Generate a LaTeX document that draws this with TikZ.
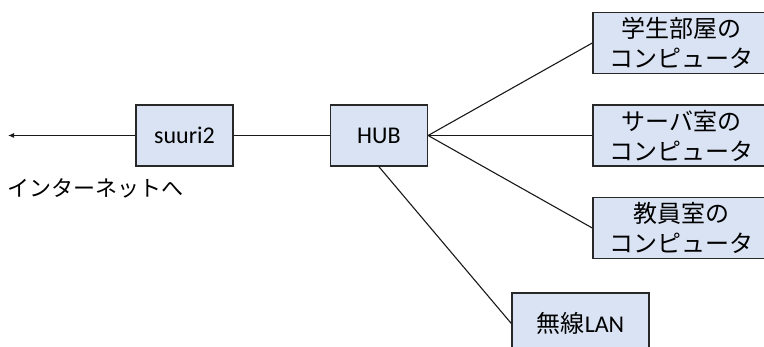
\documentclass[tikz,border=0pt]{standalone}
\usepackage{fontspec}
\setmainfont{Carlito}
\newfontfamily\jp{Noto Sans CJK JP}
\usetikzlibrary{arrows.meta,positioning}
\definecolor{boxfill}{RGB}{218,227,243}
\definecolor{boxline}{RGB}{40,40,40}

\begin{document}
\begin{tikzpicture}[
    x=1pt,y=1pt,
    node distance=30pt,
    host/.style={rectangle,draw=boxline,fill=boxfill,line width=1.4pt,
      minimum width=97pt,minimum height=61pt,align=center,font=\fontsize{24}{30}\selectfont},
    pc/.style={host,minimum width=178pt,font=\fontsize{24}{30}\selectfont\jp},
    link/.style={line width=1.1pt,draw=black!90},
    arrow/.style={-{Latex[length=6pt,width=5pt]},link}
  ]
    \clip (0,0) rectangle (764,347);
    \node[host] (suuri) at (184.5,211.5) {suuri2};
    \node[host,right=96pt of suuri] (hub) {HUB};
    \node[pc,right=164pt of hub] (server) {サーバ室の\\コンピュータ};
    \node[pc,above=of server] (student) {学生部屋の\\コンピュータ};
    \node[pc,below=of server] (staff) {教員室の\\コンピュータ};
    \node[host,minimum width=137pt] (wlan) at (580.5,23.5) {{\jp 無線}LAN};
    \coordinate (net) at (8,211.5);
    \node[anchor=west,font=\fontsize{22}{26}\selectfont\jp] (netlabel) at (4,159) {インターネットへ};

    \draw[arrow] (suuri) -- (net);
    \draw[link] (suuri) -- (hub);
    \draw[link] (hub.east) -- (student.west);
    \draw[link] (hub.east) -- (server.west);
    \draw[link] (hub.east) -- (staff.west);
    \draw[link] (hub.south) -- (wlan.west);
  \end{tikzpicture}
\end{document}
